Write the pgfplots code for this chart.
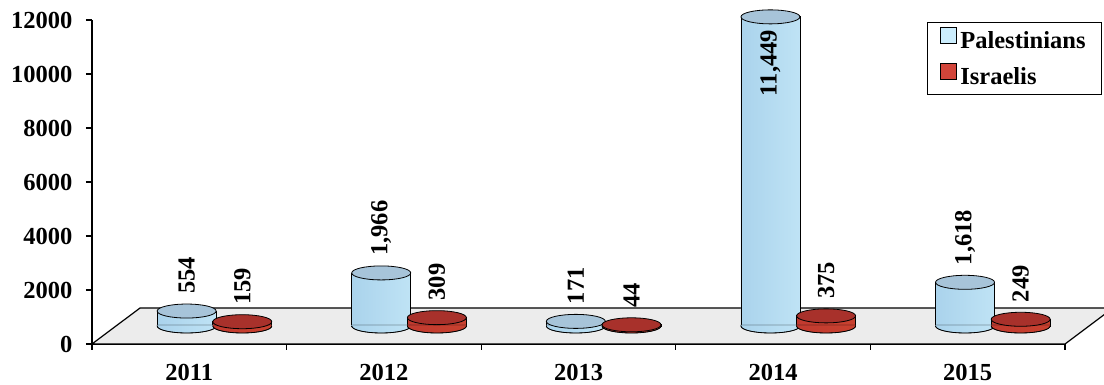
\documentclass[border=0pt]{standalone}
\usepackage{pgfplots}
\pgfplotsset{compat=1.18}
\usepackage{pgfplotstable}
\usepackage{fontspec}
\setmainfont{Liberation Serif}

\definecolor{floorgray}{HTML}{ECECEC}
\definecolor{palL}{HTML}{AAD3EC}
\definecolor{palM}{HTML}{DDF4FF}
\definecolor{palR}{HTML}{BFE3F5}
\definecolor{palTop}{HTML}{A7C4D9}
\definecolor{palKey}{HTML}{CBEDFD}
\definecolor{isrL}{HTML}{C13A2F}
\definecolor{isrM}{HTML}{DD5746}
\definecolor{isrR}{HTML}{C9412F}
\definecolor{isrTop}{HTML}{A8312B}
\definecolor{isrKey}{HTML}{D2453A}

\newcommand\lblfont{\fontsize{24.5}{28}\selectfont\bfseries}
\newcommand\legfont{\fontsize{24.5}{28}\selectfont\bfseries}

% killed per year
\pgfplotstableread{
i pal isr
0 554 159
1 1966 309
2 171 44
3 11449 375
4 1618 249
}\casualties

% cylinder caps
\def\cylrx{29.5pt}
\def\cylry{7pt}
\pgfdeclareplotmark{palbase}{%
  \path[left color=palL, middle color=palM, right color=palR]
    (-\cylrx,1pt) -- (-\cylrx,0pt) arc[start angle=180, end angle=360, x radius=\cylrx, y radius=\cylry] -- (\cylrx,1pt) -- cycle;
  \draw[draw=black, line width=0.8pt] (-\cylrx,0pt) arc[start angle=180, end angle=360, x radius=\cylrx, y radius=\cylry];}
\pgfdeclareplotmark{paltop}{%
  \draw[draw=black, fill=palTop, line width=0.8pt] (0pt,0pt) ellipse [x radius=\cylrx, y radius=\cylry];}
\pgfdeclareplotmark{isrbase}{%
  \path[left color=isrL, middle color=isrM, right color=isrR]
    (-\cylrx,1pt) -- (-\cylrx,0pt) arc[start angle=180, end angle=360, x radius=\cylrx, y radius=\cylry] -- (\cylrx,1pt) -- cycle;
  \draw[draw=black, line width=0.8pt] (-\cylrx,0pt) arc[start angle=180, end angle=360, x radius=\cylrx, y radius=\cylry];}
\pgfdeclareplotmark{isrtop}{%
  \draw[draw=black, fill=isrTop, line width=0.8pt] (0pt,0pt) ellipse [x radius=\cylrx, y radius=\cylry];}

\begin{document}
\begin{tikzpicture}
\path[use as bounding box] (-92pt,-41pt) rectangle (1012pt,344pt);

% front axes with floor and legend
\begin{axis}[
  at={(0pt,0pt)}, anchor=south west,
  scale only axis, width=973pt, height=324pt,
  xmin=-0.5, xmax=4.5, ymin=0, ymax=12000,
  clip=false,
  axis lines*=left,
  axis line style={line width=1.2pt},
  tick style={line width=1.2pt, black},
  tick align=outside,
  major tick length=6pt,
  ytick={0,2000,...,12000},
  scaled y ticks=false,
  xtick={-0.5,0.5,...,4.5},
  x tick label as interval,
  xticklabels={2011,2012,2013,2014,2015},
  /pgf/number format/.cd, 1000 sep={}, assume math mode=true, /pgfplots/.cd,
  tick label style={font=\lblfont},
  y tick label style={xshift=-10pt},
  x tick label style={yshift=-11pt},
  legend style={at={(1.038,0.994)}, anchor=north east, draw=black, line width=0.8pt,
    font=\legfont, inner xsep=12pt, inner ysep=5pt, row sep=9pt,
    nodes={inner xsep=4pt, inner ysep=0pt, text height=19pt, text depth=5pt},
    cells={anchor=west}},
  legend image code/.code={\draw[#1, draw=black, line width=0.7pt] (0pt,-2pt) rectangle (16pt,14pt);},
]
% floor
\addplot[fill=floorgray, draw=black, line width=1.2pt, forget plot]
  coordinates {(-0.5,0) (4.5,0) (4.7467,1333.3) (-0.2533,1333.3)} -- cycle;
\addlegendimage{fill=palKey}
\addlegendentry{Palestinians}
\addlegendimage{fill=isrKey}
\addlegendentry{Israelis}
\end{axis}

% cylinders, standing half way into the floor
\begin{axis}[
  at={(24pt,18pt)}, anchor=south west,
  scale only axis, width=973pt, height=324pt,
  xmin=-0.5, xmax=4.5, ymin=0, ymax=12000,
  hide axis, clip=false,
  /pgf/number format/.cd, 1000 sep={,}, assume math mode=true, /pgfplots/.cd,
  every node near coord/.append style={font=\lblfont, rotate=90, anchor=west, inner xsep=17pt, black},
]
% Palestinians: one bar per year so each gets its own shading
\pgfplotsinvokeforeach{0,...,4}{%
  \addplot[ybar, bar width=59pt, bar shift=0pt, draw=black, line width=0.8pt,
    left color=palL, middle color=palM, right color=palR,
    x filter/.expression={\coordindex==#1 ? x : nan}]
    table[x expr=\thisrow{i}-0.137, y=pal] {\casualties};
}
\addplot[only marks, mark=palbase] table[x expr=\thisrow{i}-0.137, y expr=0] {\casualties};
\addplot[only marks, mark=paltop] table[x expr=\thisrow{i}-0.137, y=pal] {\casualties};
% Israelis
\pgfplotsinvokeforeach{0,...,4}{%
  \addplot[ybar, bar width=59pt, bar shift=0pt, draw=black, line width=0.8pt,
    left color=isrL, middle color=isrM, right color=isrR,
    x filter/.expression={\coordindex==#1 ? x : nan}]
    table[x expr=\thisrow{i}+0.149, y=isr] {\casualties};
}
\addplot[only marks, mark=isrbase] table[x expr=\thisrow{i}+0.149, y expr=0] {\casualties};
\addplot[only marks, mark=isrtop] table[x expr=\thisrow{i}+0.149, y=isr] {\casualties};
% value labels
\addplot[draw=none, mark=none, point meta=y, nodes near coords,
  x filter/.expression={\coordindex==3 ? nan : x}]
  table[x expr=\thisrow{i}-0.137, y=pal] {\casualties};
\addplot[draw=none, mark=none, point meta=y, nodes near coords,
  x filter/.expression={\coordindex==3 ? x : nan},
  every node near coord/.append style={anchor=east, inner xsep=13pt}]
  table[x expr=\thisrow{i}-0.137, y=pal] {\casualties};
\addplot[draw=none, mark=none, point meta=y, nodes near coords]
  table[x expr=\thisrow{i}+0.149, y=isr] {\casualties};
\end{axis}
\end{tikzpicture}
\end{document}
